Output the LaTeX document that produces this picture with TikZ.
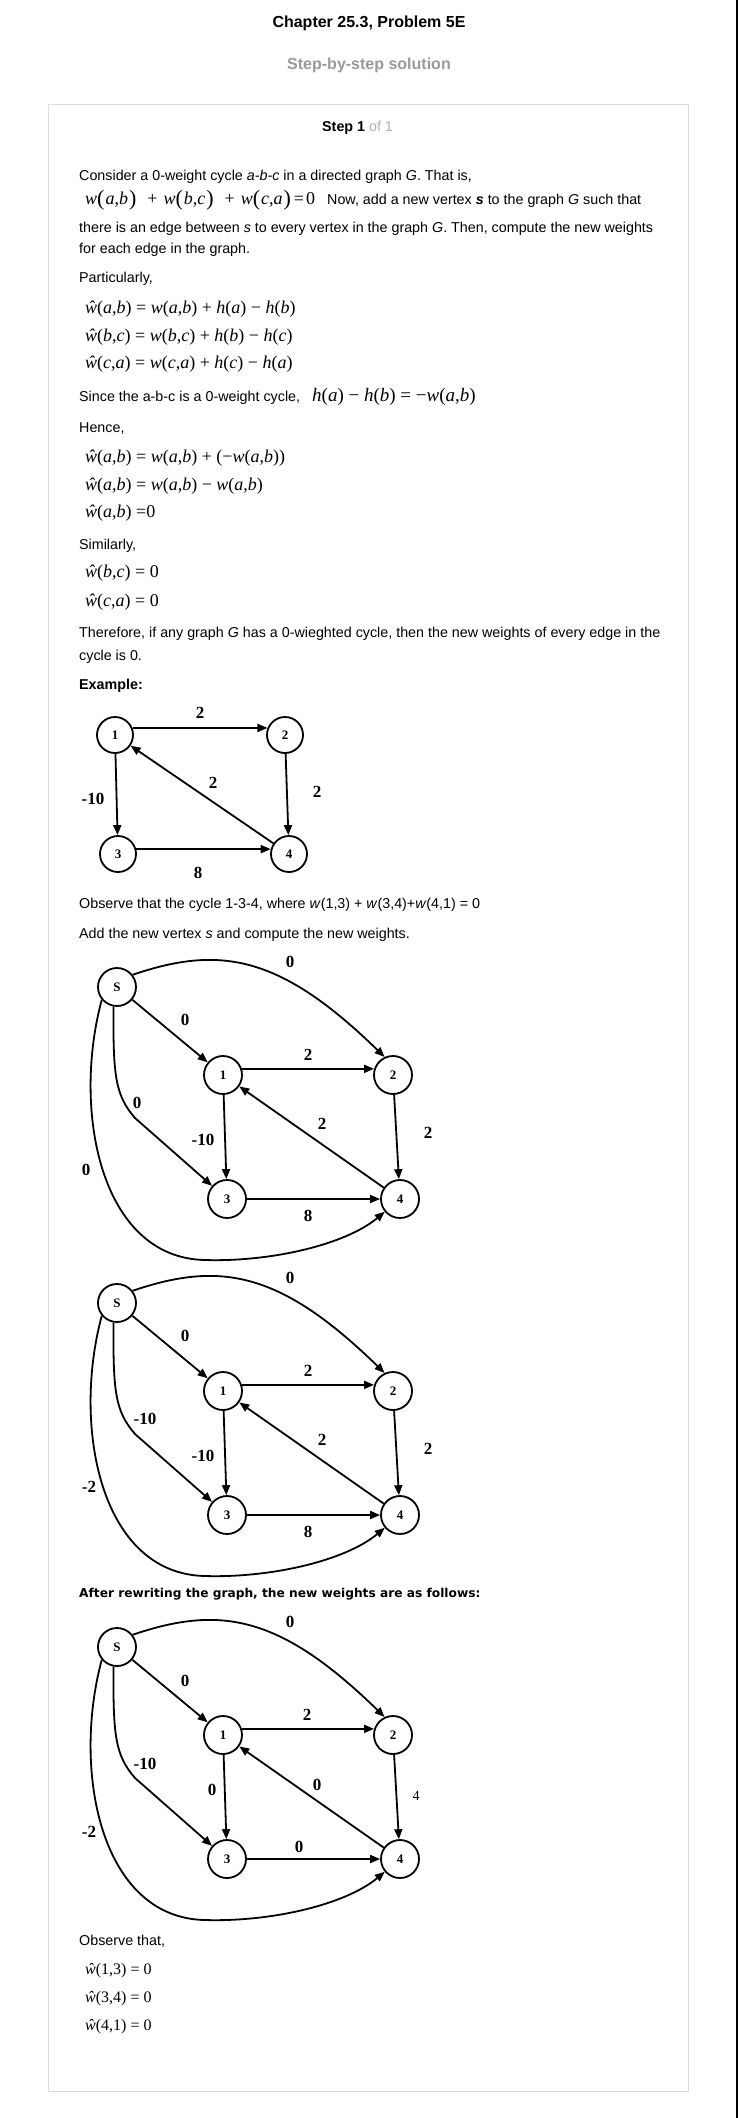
\documentclass[tikz,border=0pt]{standalone}
\usepackage{fontspec}
\setmainfont{Liberation Sans}
\newfontfamily\eqf{Liberation Serif}
\newfontfamily\hdf{DejaVu Sans}
\usetikzlibrary{arrows.meta}

\definecolor{boxline}{RGB}{221,221,221}
\definecolor{subgray}{RGB}{153,153,153}
\definecolor{ofgray}{RGB}{176,176,176}

% pieces of the formulas
\newcommand\ww[2]{\textit{w}(\textit{#1},\textit{#2})}
\newcommand\wh[2]{\textit{ŵ}(\textit{#1},\textit{#2})}
\newcommand\whn[2]{\textit{ŵ}(#1,#2)}
\newcommand\hh[1]{\textit{h}(\textit{#1})}
\newcommand\bp[1]{\raisebox{-1pt}{\fontsize{22}{22}\selectfont(}\hspace{1pt}#1\hspace{1pt}\raisebox{-1pt}{\fontsize{22}{22}\selectfont)}}

\begin{document}
\begin{tikzpicture}[x=1pt,y=-1pt,>={Triangle[length=10pt,width=8pt]},
    txt/.style={anchor=base west,inner sep=0pt,font=\fontsize{14.3}{17}\selectfont},
    eqn/.style={anchor=base west,inner sep=0pt,font=\eqf\fontsize{18}{20}\selectfont},
    vtx/.style={circle,draw,line width=1.8pt,minimum size=36pt,inner sep=0pt,
                font=\eqf\bfseries\fontsize{13}{13}\selectfont},
    wire/.style={->,line width=1.8pt},
    wt/.style={inner sep=0pt,font=\eqf\bfseries\fontsize{17}{18}\selectfont}]
    \useasboundingbox (0,0) rectangle (738,2118);
    \draw [boxline,line width=1pt] (48,104) rectangle (688,2091);
    \draw [line width=2.5pt] (737,0) -- (737,2118);

    \node [anchor=base,inner sep=0pt,font=\bfseries\fontsize{16}{19}\selectfont]
          (title) at (369,27) {Chapter 25.3, Problem 5E};
    \node [anchor=base,inner sep=0pt,text=subgray,font=\bfseries\fontsize{16}{19}\selectfont]
          (sub) at (369,69) {Step-by-step solution};
    \node [txt] (step) at (322,131.5) {\textbf{Step 1} \textcolor{ofgray}{of 1}};

    \node [txt] (l1) at (79,180) {Consider a 0-weight cycle \textit{a-b-c} in a directed graph \textit{G}. That is,};
    \node [eqn] (e0) at (85,204) {\textit{w}\bp{\textit{a},\textit{b}}\hspace{11pt}+\hspace{6pt}\textit{w}\bp{\textit{b},\textit{c}}\hspace{11pt}+\hspace{6pt}\textit{w}\bp{\textit{c},\textit{a}}\hspace{3pt}=\hspace{2pt}0};
    \node [txt] (l2) at (327,204) {Now, add a new vertex \textbf{\textit{s}} to the graph \textit{G} such that};
    \node [txt] (l3) at (79,232) {there is an edge between \textit{s} to every vertex in the graph \textit{G}. Then, compute the new weights};
    \node [txt] (l4) at (79,253) {for each edge in the graph.};
    \node [txt] (l5) at (79,282) {Particularly,};
    \node [eqn] (e1) at (85,313) {\wh ab = \ww ab + \hh a − \hh b};
    \node [eqn] (e2) at (85,341) {\wh bc = \ww bc + \hh b − \hh c};
    \node [eqn] (e3) at (85,368.5) {\wh ca = \ww ca + \hh c − \hh a};
    \node [txt] (l6) at (79,401) {Since the a-b-c is a 0-weight cycle,};
    \node [eqn,font=\eqf\fontsize{19}{21}\selectfont] (e4) at (312,401) {\hh a − \hh b = −\ww ab};
    \node [txt] (l7) at (79,432) {Hence,};
    \node [eqn] (e5) at (85,462.5) {\wh ab = \ww ab + (−\ww ab)};
    \node [eqn] (e6) at (85,490) {\wh ab = \ww ab − \ww ab};
    \node [eqn] (e7) at (85,517.5) {\wh ab =0};
    \node [txt] (l8) at (79,549) {Similarly,};
    \node [eqn] (e8) at (85,577.5) {\wh bc = 0};
    \node [eqn] (e9) at (85,606) {\wh ca = 0};
    \node [txt] (l9) at (79,637) {Therefore, if any graph \textit{G} has a 0-wieghted cycle, then the new weights of every edge in the};
    \node [txt] (l10) at (79,660) {cycle is 0.};
    \node [txt,font=\bfseries\fontsize{14.3}{17}\selectfont] (l11) at (79,689) {Example:};

    % example graph
    \node [vtx] (a1) at (115,735) {1};
    \node [vtx] (a2) at (285,735) {2};
    \node [vtx] (a3) at (118,854) {3};
    \node [vtx] (a4) at (289,854) {4};
    \draw [wire] (a1.22) -- (a2.158);
    \draw [wire] (a1) -- (a3);
    \draw [wire] (a2) -- (a4);
    \draw [wire] (a3.15) -- (a4.165);
    \draw [wire] (a4) -- (a1);
    \node [wt] (a12) at (200,713) {2};
    \node [wt] (a13) at (93,799) {-10};
    \node [wt] (a41) at (213,783) {2};
    \node [wt] (a24) at (317,792) {2};
    \node [wt] (a34) at (198,873) {8};

    \node [txt] (l12) at (79,908) {Observe that the cycle 1-3-4, where \textit{w}(1,3) + \textit{w}(3,4)+\textit{w}(4,1) = 0};
    \node [txt] (l13) at (79,938) {Add the new vertex \textit{s} and compute the new weights.};

    % the graph with s, three times
    \foreach \g/\dy in {b/0,c/316,d/660} {
      \begin{scope}[shift={(0,\dy)},vtx/.append style={minimum size=38pt}]
        \node [vtx] (s\g) at (117,987) {S};
        \node [vtx] (one\g) at (223,1075) {1};
        \node [vtx] (two\g) at (393,1075) {2};
        \node [vtx] (three\g) at (227,1199) {3};
        \node [vtx] (four\g) at (400,1199) {4};
        \draw [wire] (s\g) -- (one\g);
        \draw [wire] (s\g.38) .. controls (220,945) and (280,955) .. (two\g.115);
        \draw [wire] (s\g.-100) .. controls (113,1075) and (115,1095) .. (135,1118) -- (three\g);
        \draw [wire] (s\g.-140) .. controls (72,1110) and (100,1258) .. (205,1260)
                     .. controls (270,1262) and (345,1245) .. (four\g);
        \draw [wire] (one\g.18) -- (two\g.162);
        \draw [wire] (one\g) -- (three\g);
        \draw [wire] (two\g) -- (four\g);
        \draw [wire] (three\g) -- (four\g);
        \draw [wire] (four\g) -- (one\g);
      \end{scope}
    }
    % weights, second graph
    \node [wt] (b1) at (290,962) {0};
    \node [wt] (b2) at (185,1020) {0};
    \node [wt] (b3) at (308,1055) {2};
    \node [wt] (b4) at (137,1103) {0};
    \node [wt] (b5) at (203,1140) {-10};
    \node [wt] (b6) at (322,1124) {2};
    \node [wt] (b7) at (428,1133) {2};
    \node [wt] (b8) at (308,1216) {8};
    \node [wt] (b9) at (86,1170) {0};
    % weights, third graph
    \node [wt] (c1) at (290,1278) {0};
    \node [wt] (c2) at (185,1336) {0};
    \node [wt] (c3) at (308,1371) {2};
    \node [wt] (c4) at (145,1419) {-10};
    \node [wt] (c5) at (203,1456) {-10};
    \node [wt] (c6) at (322,1440) {2};
    \node [wt] (c7) at (428,1449) {2};
    \node [wt] (c8) at (308,1532) {8};
    \node [wt] (c9) at (89,1487) {-2};

    \node [anchor=base west,inner sep=0pt,font=\hdf\bfseries\fontsize{12.2}{14}\selectfont]
          (l14) at (79,1597.5) {After rewriting the graph, the new weights are as follows:};
    % weights, last graph
    \node [wt] (d1) at (290,1622) {0};
    \node [wt] (d2) at (185,1681) {0};
    \node [wt] (d3) at (307,1715) {2};
    \node [wt] (d4) at (145,1764) {-10};
    \node [wt] (d5) at (212,1790) {0};
    \node [wt] (d6) at (317,1785) {0};
    \node [wt,font=\eqf\fontsize{14}{15}\selectfont] (d7) at (416,1796) {4};
    \node [wt] (d8) at (89,1832) {-2};
    \node [wt] (d9) at (299,1847) {0};

    \node [txt] (l15) at (79,1945) {Observe that,};
    \node [eqn,font=\eqf\fontsize{16}{18}\selectfont] (e10) at (85,1974) {\whn13 = 0};
    \node [eqn,font=\eqf\fontsize{16}{18}\selectfont] (e11) at (85,2002) {\whn34 = 0};
    \node [eqn,font=\eqf\fontsize{16}{18}\selectfont] (e12) at (85,2030) {\whn41 = 0};
\end{tikzpicture}
\end{document}
